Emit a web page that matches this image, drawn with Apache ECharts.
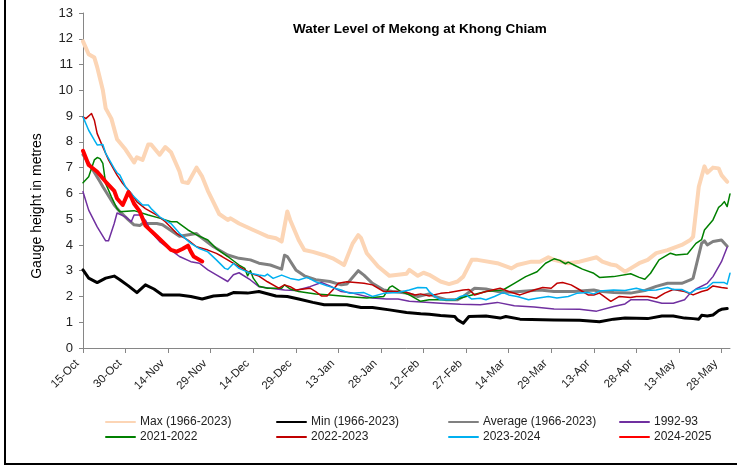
<!DOCTYPE html>
<html lang="en">
<head>
    <meta charset="UTF-8">
    <title>Water Level of Mekong at Khong Chiam</title>
    <script type="text/javascript" src="https://cdn.jsdelivr.net/npm/echarts@6/dist/echarts.min.js"></script>
    <style>
        html, body { margin: 0; padding: 0; background: #fff; }
    </style>
</head>
<body>
<div id="chart" style="width: 737px;height:466px;"></div>
<script type="text/javascript">

    // x = days since 15-Oct, labels every 15 days
    let tickLabels = ['15-Oct', '30-Oct', '14-Nov', '29-Nov', '14-Dec', '29-Dec', '13-Jan', '28-Jan',
        '12-Feb', '27-Feb', '14-Mar', '29-Mar', '13-Apr', '28-Apr', '13-May', '28-May'];
    let dayCount = 229;

    let maxLevel = [[0, 11.9], [2, 11.4], [4, 11.27], [5, 10.9], [7, 10.0], [8, 9.3], [10, 8.9], [12, 8.1], [15, 7.7],
        [18, 7.2], [19, 7.4], [21, 7.3], [23, 7.9], [24, 7.9], [27, 7.5], [29, 7.8], [31, 7.6], [34, 6.85], [35, 6.45],
        [37, 6.4], [40, 7.0], [42, 6.65], [44, 6.1], [48, 5.2], [51, 4.97], [52, 5.03], [55, 4.83], [60, 4.58],
        [62, 4.48], [65, 4.33], [68, 4.26], [70, 4.13], [72, 5.3], [73, 4.97], [76, 4.19], [78, 3.8], [81, 3.73],
        [85, 3.6], [88, 3.48], [91, 3.29], [92, 3.22], [95, 4.05], [97, 4.38], [98, 4.26], [100, 3.68], [104, 3.16],
        [108, 2.8], [111, 2.84], [114, 2.88], [115, 3.03], [118, 2.8], [120, 2.92], [122, 2.84], [126, 2.58],
        [129, 2.48], [132, 2.58], [134, 2.77], [137, 3.42], [139, 3.42], [146, 3.29], [151, 3.09], [153, 3.22],
        [158, 3.35], [161, 3.35], [164, 3.52], [166, 3.42], [171, 3.29], [175, 3.35], [181, 3.52], [183, 3.35],
        [186, 3.24], [188, 3.2], [191, 2.96], [193, 3.09], [196, 3.29], [199, 3.42], [202, 3.68], [206, 3.8],
        [211, 4.0], [214, 4.19], [215, 4.32], [217, 6.26], [219, 7.05], [220, 6.8], [222, 7.0], [224, 6.97],
        [225, 6.71], [227, 6.45]];

    let minLevel = [[0, 3.03], [2, 2.71], [5, 2.54], [8, 2.71], [11, 2.79], [13, 2.65], [16, 2.41], [19, 2.15],
        [22, 2.45], [25, 2.29], [28, 2.06], [34, 2.06], [38, 2.0], [42, 1.9], [46, 2.02], [51, 2.06], [53, 2.15],
        [58, 2.13], [62, 2.19], [68, 2.02], [72, 2.0], [76, 1.9], [81, 1.77], [85, 1.68], [93, 1.68], [98, 1.57],
        [102, 1.57], [108, 1.48], [114, 1.38], [119, 1.33], [122, 1.31], [126, 1.26], [131, 1.22], [132, 1.09],
        [134, 0.96], [136, 1.22], [142, 1.24], [147, 1.16], [149, 1.22], [154, 1.12], [166, 1.09], [175, 1.08],
        [182, 1.02], [187, 1.12], [191, 1.16], [199, 1.14], [204, 1.24], [208, 1.24], [212, 1.16], [215, 1.14],
        [217, 1.12], [218, 1.27], [220, 1.24], [222, 1.28], [224, 1.45], [225, 1.5], [227, 1.53]];

    let avgLevel = [[0, 7.5], [3, 7.0], [6, 6.45], [7, 6.26], [11, 5.55], [13, 5.29], [16, 4.97], [18, 4.78],
        [20, 4.75], [21, 4.83], [26, 4.83], [28, 4.78], [34, 4.34], [40, 4.44], [41, 4.34], [46, 3.93], [51, 3.61],
        [55, 3.48], [59, 3.42], [62, 3.29], [66, 3.22], [70, 3.06], [71, 3.6], [72, 3.55], [75, 3.03], [78, 2.8],
        [82, 2.65], [87, 2.58], [91, 2.45], [93, 2.48], [97, 3.0], [99, 2.83], [102, 2.51], [106, 2.25], [109, 2.19],
        [114, 2.13], [118, 2.0], [122, 2.1], [124, 2.0], [128, 1.87], [132, 1.87], [134, 2.0], [138, 2.32],
        [142, 2.29], [148, 2.15], [154, 2.19], [161, 2.25], [166, 2.19], [173, 2.19], [180, 2.25], [182, 2.2],
        [187, 2.15], [193, 2.13], [198, 2.23], [202, 2.39], [206, 2.51], [211, 2.51], [214, 2.64], [215, 2.71],
        [216, 3.16], [218, 4.06], [219, 4.16], [220, 4.0], [222, 4.13], [225, 4.19], [227, 3.95]];

    let y1992 = [[0, 6.06], [2, 5.35], [5, 4.7], [8, 4.16], [9, 4.16], [11, 4.83], [12, 5.24], [15, 5.09],
        [17, 4.9], [18, 5.16], [20, 5.16], [22, 4.96], [24, 4.51], [27, 4.13], [31, 3.8], [34, 3.55], [38, 3.35],
        [41, 3.29], [44, 3.03], [47, 2.84], [51, 2.58], [53, 2.84], [55, 2.92], [59, 2.64], [62, 2.38], [66, 2.32],
        [71, 2.25], [75, 2.23], [80, 2.38], [84, 2.54], [87, 2.41], [91, 2.19], [95, 2.13], [102, 1.94], [107, 1.9],
        [111, 1.9], [115, 1.81], [122, 1.77], [126, 1.74], [133, 1.7], [140, 1.68], [146, 1.77], [152, 1.64],
        [159, 1.59], [166, 1.51], [175, 1.5], [181, 1.43], [187, 1.61], [191, 1.71], [193, 1.87], [199, 1.87],
        [204, 1.74], [208, 1.74], [212, 1.87], [214, 2.13], [216, 2.29], [220, 2.51], [222, 2.77], [225, 3.35],
        [227, 3.91]];

    let y2021 = [[0, 6.41], [2, 6.65], [4, 7.3], [5, 7.39], [6, 7.35], [7, 7.16], [8, 6.38], [10, 5.87], [12, 5.41],
        [13, 5.29], [18, 5.33], [23, 5.16], [27, 5.04], [31, 4.9], [33, 4.9], [37, 4.58], [40, 4.39], [44, 4.19],
        [47, 3.86], [51, 3.55], [55, 3.22], [57, 3.09], [58, 2.8], [59, 3.0], [60, 2.71], [62, 2.4], [65, 2.32],
        [70, 2.32], [71, 2.45], [73, 2.29], [76, 2.19], [82, 2.1], [87, 2.06], [93, 2.0], [100, 1.94], [106, 2.0],
        [108, 2.35], [109, 2.41], [112, 2.19], [115, 2.06], [119, 1.81], [122, 1.87], [131, 1.87], [135, 2.0],
        [142, 2.19], [148, 2.25], [152, 2.51], [156, 2.77], [160, 2.96], [163, 3.29], [166, 3.46], [168, 3.4],
        [170, 3.27], [171, 3.33], [173, 3.22], [176, 3.06], [180, 2.9], [182, 2.74], [187, 2.77], [193, 2.88],
        [196, 2.74], [198, 2.67], [200, 2.9], [203, 3.42], [207, 3.68], [209, 3.61], [213, 3.65], [216, 4.06],
        [218, 4.21], [219, 4.58], [222, 4.97], [224, 5.46], [225, 5.55], [226, 5.68], [227, 5.49], [228, 5.98]];

    let y2022 = [[0, 8.97], [1, 8.9], [3, 9.1], [4, 8.84], [5, 8.32], [7, 7.8], [9, 7.3], [11, 6.9], [12, 6.71],
        [14, 6.38], [17, 6.0], [19, 5.67], [22, 5.41], [26, 5.16], [29, 4.9], [33, 4.45], [37, 4.19], [40, 3.93],
        [44, 3.8], [47, 3.67], [49, 3.55], [52, 3.35], [55, 3.16], [59, 2.9], [62, 2.79], [65, 2.57], [69, 2.32],
        [71, 2.45], [73, 2.38], [75, 2.25], [80, 2.32], [82, 2.19], [84, 2.02], [86, 2.02], [88, 2.25], [90, 2.51],
        [93, 2.57], [99, 2.51], [102, 2.45], [106, 2.19], [109, 2.19], [113, 2.19], [117, 2.06], [119, 2.1],
        [122, 2.02], [126, 2.12], [129, 2.15], [134, 2.25], [136, 2.27], [138, 2.06], [142, 2.19], [147, 2.32],
        [150, 2.19], [154, 2.06], [159, 2.25], [162, 2.35], [165, 2.32], [167, 2.51], [169, 2.54], [172, 2.45],
        [175, 2.26], [178, 2.06], [180, 2.06], [182, 2.13], [186, 1.81], [189, 2.0], [193, 1.96], [195, 2.0],
        [199, 2.0], [202, 1.93], [205, 2.13], [208, 2.27], [212, 2.19], [215, 2.06], [218, 2.19], [220, 2.25],
        [222, 2.41], [225, 2.35], [227, 2.32]];

    let y2023 = [[0, 8.97], [2, 8.45], [4, 8.07], [5, 7.88], [7, 7.9], [8, 7.55], [11, 6.97], [12, 6.8],
        [13, 6.71], [15, 6.25], [18, 5.87], [21, 5.55], [23, 5.55], [24, 5.41], [27, 5.09], [31, 4.83], [34, 4.45],
        [38, 4.06], [41, 3.86], [44, 3.73], [47, 3.42], [50, 3.09], [51, 3.05], [53, 3.28], [55, 3.09], [59, 2.9],
        [62, 2.83], [64, 2.79], [65, 2.87], [67, 2.7], [70, 2.83], [73, 2.7], [76, 2.64], [79, 2.74], [82, 2.57],
        [86, 2.41], [91, 2.25], [94, 2.12], [99, 2.15], [102, 2.0], [106, 2.12], [111, 2.15], [115, 2.25],
        [118, 2.35], [121, 2.34], [122, 2.19], [124, 2.0], [126, 1.87], [131, 1.87], [133, 2.0], [135, 2.06],
        [137, 1.9], [140, 1.93], [142, 1.87], [145, 2.0], [148, 2.15], [150, 2.06], [153, 2.0], [157, 1.87],
        [160, 1.93], [164, 2.0], [167, 1.94], [171, 2.0], [174, 2.12], [178, 2.15], [180, 2.1], [182, 2.21],
        [187, 2.25], [191, 2.23], [195, 2.32], [198, 2.23], [202, 2.25], [206, 2.35], [208, 2.27], [211, 2.27],
        [214, 2.12], [216, 2.27], [220, 2.35], [222, 2.54], [226, 2.54], [227, 2.48], [228, 2.9]];

    let y2024 = [[0, 7.65], [2, 7.1], [5, 6.84], [8, 6.45], [11, 6.1], [12, 5.8], [14, 5.55], [16, 6.05],
        [17, 5.85], [18, 5.6], [20, 5.3], [22, 4.75], [26, 4.34], [28, 4.13], [31, 3.81], [33, 3.74], [35, 3.84],
        [37, 3.97], [38, 3.74], [39, 3.55], [42, 3.36]];

    let seriesNames = ['Max (1966-2023)', 'Min (1966-2023)', 'Average (1966-2023)', '1992-93',
        '2021-2022', '2022-2023', '2023-2024', '2024-2025'];
    let seriesData = [maxLevel, minLevel, avgLevel, y1992, y2021, y2022, y2023, y2024];
    let seriesColors = ['#fcd5b5', '#000000', '#808080', '#7030a0', '#008000', '#c00000', '#00b0f0', '#ff0000'];
    let seriesWidths = [4, 3, 3, 1.5, 1.5, 1.5, 1.5, 4];

    let categories = [];
    for (let i = 0; i < dayCount; i++) {
        categories.push(i % 15 === 0 ? tickLabels[i / 15] : '');
    }

    function buildSeries() {
        return seriesNames.map(function (name, i) {
            return {
                name: name,
                type: 'line',
                data: seriesData[i],
                showSymbol: false,
                symbol: 'none',
                z: i === 0 ? 1 : 2 + i,
                lineStyle: {
                    color: seriesColors[i],
                    width: seriesWidths[i],
                    join: 'round',
                    cap: 'round'
                },
                itemStyle: {color: seriesColors[i]}
            };
        });
    }

    // one legend per column so the two rows line up
    function buildLegend(left, names) {
        return {
            orient: 'vertical',
            left: left,
            top: 411,
            itemGap: 3,
            itemWidth: 29,
            itemHeight: 8,
            itemStyle: {opacity: 0},
            data: names,
            textStyle: {
                fontFamily: "'Liberation Sans', Arial",
                fontSize: 12,
                color: '#222'
            }
        };
    }

    let option = {
        animation: false,
        backgroundColor: '#fff',
        title: {
            text: 'Water Level of Mekong at Khong Chiam',
            left: 288,
            top: 17,
            textStyle: {
                fontFamily: "'Liberation Sans', Arial",
                fontSize: 13.5,
                fontWeight: 'bold',
                color: '#000'
            }
        },
        grid: {
            left: 83,
            right: 7,
            top: 13,
            bottom: 118
        },
        legend: [
            buildLegend(100, [seriesNames[0], seriesNames[4]]),
            buildLegend(271, [seriesNames[1], seriesNames[5]]),
            buildLegend(443, [seriesNames[2], seriesNames[6]]),
            buildLegend(614, [seriesNames[3], seriesNames[7]])
        ],
        xAxis: {
            type: 'category',
            data: categories,
            boundaryGap: false,
            axisLine: {lineStyle: {color: '#868686', width: 1}},
            axisTick: {
                show: true,
                interval: 14,
                length: 5,
                lineStyle: {color: '#868686'}
            },
            axisLabel: {
                interval: 14,
                rotate: 45,
                margin: 8,
                padding: [0, 8, 0, 0],
                fontFamily: "'Liberation Sans', Arial",
                fontSize: 11.5,
                color: '#222'
            },
            splitLine: {show: false}
        },
        yAxis: {
            type: 'value',
            min: 0,
            max: 13,
            interval: 1,
            axisLine: {show: true, lineStyle: {color: '#868686', width: 1}},
            axisTick: {show: true, length: 4, lineStyle: {color: '#868686'}},
            axisLabel: {
                margin: 10,
                fontFamily: "'Liberation Sans', Arial",
                fontSize: 13,
                color: '#222'
            },
            splitLine: {show: false}
        },
        graphic: [
            {
                type: 'text',
                x: 37,
                y: 206,
                rotation: Math.PI / 2,
                style: {
                    text: 'Gauge height in metres',
                    fontFamily: "'Liberation Sans', Arial",
                    fontSize: 14,
                    fill: '#000',
                    align: 'center',
                    verticalAlign: 'middle'
                }
            },
            {
                type: 'line',
                shape: {x1: 5, y1: 0, x2: 5, y2: 464},
                style: {stroke: '#000', lineWidth: 2}
            },
            {
                type: 'line',
                shape: {x1: 4, y1: 464, x2: 737, y2: 464},
                style: {stroke: '#000', lineWidth: 2}
            }
        ],
        series: buildSeries()
    };

    echarts.init(document.getElementById('chart')).setOption(option);
</script>
</body>
</html>
